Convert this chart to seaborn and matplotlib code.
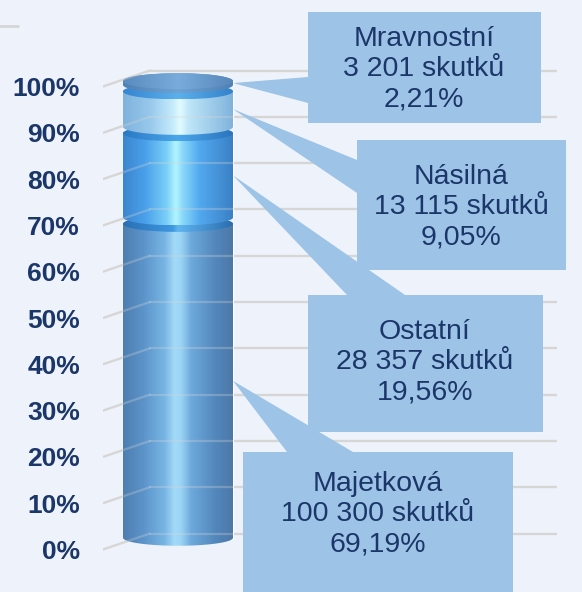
import numpy as np
import matplotlib
matplotlib.use("Agg")
import matplotlib.pyplot as plt
import matplotlib.transforms as mtransforms
from matplotlib.colors import LinearSegmentedColormap
from matplotlib.patches import Polygon, Ellipse, Rectangle
from matplotlib.lines import Line2D
import seaborn as sns

# Data (podil trestne cinnosti podle druhu)
kategorie = ["Majetková", "Ostatní", "Násilná", "Mravnostní"]
skutky = ["100 300", "28 357", "13 115", "3 201"]
podil = [69.19, 19.56, 9.05, 2.21]
podil_text = ["69,19%", "19,56%", "9,05%", "2,21%"]
osa_y = [0, 10, 20, 30, 40, 50, 60, 70, 80, 90, 100]
osa_y_text = ["0%", "10%", "20%", "30%", "40%", "50%", "60%", "70%", "80%", "90%", "100%"]

# Barvy
BG = "#eef3fb"
NAVY = "#1b3668"
GRID = "#d6d6d6"
BOX = "#9dc3e6"
telo = {
    "Majetková": [(0, "#4e7eb0"), (0.18, "#5b93c9"), (0.38, "#78b5e4"), (0.47, "#a3dbf8"),
                  (0.53, "#9ad3f5"), (0.62, "#6ea9dc"), (0.85, "#5286bb"), (1, "#4d78a6")],
    "Ostatní": [(0, "#3c86cf"), (0.2, "#4aa0ea"), (0.4, "#7bd0f8"), (0.48, "#b2f5ff"),
                (0.55, "#86d6fa"), (0.7, "#52a8ee"), (1, "#3b80c6")],
    "Násilná": [(0, "#7fb2dd"), (0.25, "#98c9ec"), (0.45, "#c5ebfb"), (0.52, "#e2fbff"),
                (0.6, "#bfe6f8"), (1, "#80b3dc")],
    "Mravnostní": [(0, "#4f80b3"), (0.5, "#6fa3d4"), (1, "#4f80b3")],
}
vicko = {
    "Majetková": [(0, "#2a6fb5"), (0.45, "#3d97e0"), (0.5, "#5fb5ef"), (1, "#2a6db0")],
    "Ostatní": [(0, "#2b78c4"), (0.5, "#4aa6ea"), (1, "#2b74bd")],
    "Násilná": [(0, "#3585d0"), (0.5, "#5cb0ec"), (1, "#3382cb")],
    "Mravnostní": [(0, "#5a8bbe"), (0.5, "#79acdd"), (1, "#5887ba")],
}
zakladni = {"Majetková": "#5b93c9", "Ostatní": "#4aa0ea", "Násilná": "#a9d6f2", "Mravnostní": "#5f93c4"}

# Popisky (pixely od leveho horniho rohu): box, zaklad klinu, stred textu
popisky = {
    "Mravnostní": ((308, 12, 541, 123), ((308, 77), (308, 103)), (424, 69)),
    "Násilná": ((357, 140, 566, 270), ((357, 160), (357, 193)), (461, 207)),
    "Ostatní": ((308, 295, 543, 432), ((347, 295), (405, 295)), (425, 362)),
    "Majetková": ((243, 452, 513, 600), ((287, 452), (353, 452)), (378, 514)),
}

sns.set_style("white")
plt.rcParams["font.family"] = ["Liberation Sans", "DejaVu Sans"]

W, H = 582, 592
fig = plt.figure(figsize=(W / 100, H / 100), dpi=100)
fig.patch.set_facecolor(BG)

# rozvrzeni osy
Y0, Y100 = 541, 78
k = (Y0 - Y100) / 100.0
ylo, yhi = -4, 104
ax_l, ax_r = 103, 557
stred, sirka_px = 178, 110
ax = fig.add_axes([ax_l / W, (H - (Y0 - ylo * k)) / H, (ax_r - ax_l) / W, (yhi - ylo) * k / H])
ax.set_facecolor("none")

MEZERA = 1.4
POLOOS = 8.0 / k
R = 0.4
zacatky = np.concatenate([[0], np.cumsum(podil)[:-1]])

for i, kat in enumerate(kategorie):
    sns.barplot(x=["skutky"], y=[podil[i] - MEZERA], bottom=zacatky[i] + MEZERA / 2,
                color=zakladni[kat], width=2 * R, errorbar=None, ax=ax, zorder=2,
                saturation=1)

ax.set_xlim(-(stred - ax_l) / (sirka_px / (2 * R)), (ax_r - stred) / (sirka_px / (2 * R)))
ax.set_ylim(ylo, yhi)

grad = np.linspace(0, 1, 256).reshape(1, -1)
t1 = np.linspace(np.pi, 2 * np.pi, 80)
t2 = np.linspace(0, np.pi, 80)
for i, kat in enumerate(kategorie):
    yb = zacatky[i] + MEZERA / 2
    yt = zacatky[i] + podil[i] - MEZERA / 2
    xs = np.concatenate([R * np.cos(t1), R * np.cos(t2)])
    ys = np.concatenate([yb + POLOOS * np.sin(t1), yt + POLOOS * np.sin(t2)])
    obrys = Polygon(np.column_stack([xs, ys]), closed=True, facecolor="none", edgecolor="none")
    ax.add_patch(obrys)
    im = ax.imshow(grad, cmap=LinearSegmentedColormap.from_list(kat, telo[kat]),
                   extent=[-R, R, yb - POLOOS, yt + POLOOS], aspect="auto",
                   interpolation="bicubic", zorder=3)
    im.set_clip_path(obrys)
    elipsa = Ellipse((0, yt), 2 * R, 2 * POLOOS, facecolor="none", edgecolor="none")
    ax.add_patch(elipsa)
    im2 = ax.imshow(grad, cmap=LinearSegmentedColormap.from_list(kat + "v", vicko[kat]),
                    extent=[-R, R, yt - POLOOS, yt + POLOOS], aspect="auto",
                    interpolation="bicubic", zorder=3)
    im2.set_clip_path(elipsa)

# 3D mrizka (za valcem a slabe pres nej)
tr = mtransforms.blended_transform_factory(ax.transAxes, ax.transData)
dlab, dgrid = 8.5 / k, 7.5 / k
dx = (150 - ax_l) / (ax_r - ax_l)
for v in osa_y:
    for z, a in [(1, 1.0), (4, 0.3)]:
        ax.plot([0, dx], [v - dlab, v + dgrid], transform=tr, color=GRID, lw=1.6, zorder=z, alpha=a)
        ax.plot([dx, 1], [v + dgrid, v + dgrid], transform=tr, color=GRID, lw=1.6, zorder=z, alpha=a)

ax.set_yticks(osa_y)
ax.set_yticklabels(osa_y_text, fontsize=19, fontweight="bold", color=NAVY)
ax.tick_params(axis="y", length=0, pad=16.5)
posun = mtransforms.ScaledTranslation(0, -8.5 / 100, fig.dpi_scale_trans)
for lab in ax.get_yticklabels():
    lab.set_transform(lab.get_transform() + posun)
ax.set_xticks([])
ax.set_xlabel("")
ax.set_ylabel("")
sns.despine(ax=ax, left=True, bottom=True)

# popisky s klinem
def fig_xy(x, y):
    return (x / W, 1 - y / H)

inv = fig.transFigure.inverted()
for i, kat in enumerate(kategorie):
    (x0, y0, x1, y1), (b1, b2), (tx, ty) = popisky[kat]
    spicka = inv.transform(ax.transData.transform((R, zacatky[i] + podil[i] / 2)))
    klin = Polygon([spicka, fig_xy(*b1), fig_xy(*b2)], closed=True, facecolor=BOX,
                   edgecolor="none", transform=fig.transFigure)
    fig.add_artist(klin)
    box = Rectangle(fig_xy(x0, y1), (x1 - x0) / W, (y1 - y0) / H, facecolor=BOX,
                    edgecolor="none", transform=fig.transFigure)
    fig.add_artist(box)
    fig.text(tx / W, 1 - ty / H, f"{kat}\n{skutky[i]} skutků\n{podil_text[i]}",
             ha="center", va="center", fontsize=20.5, color=NAVY, linespacing=1.22)

fig.add_artist(Line2D([0, 18 / W], [1 - 26 / H, 1 - 26 / H], color=GRID, lw=2,
                      transform=fig.transFigure))

plt.savefig("out.png", dpi=100, facecolor=BG)
plt.close()
